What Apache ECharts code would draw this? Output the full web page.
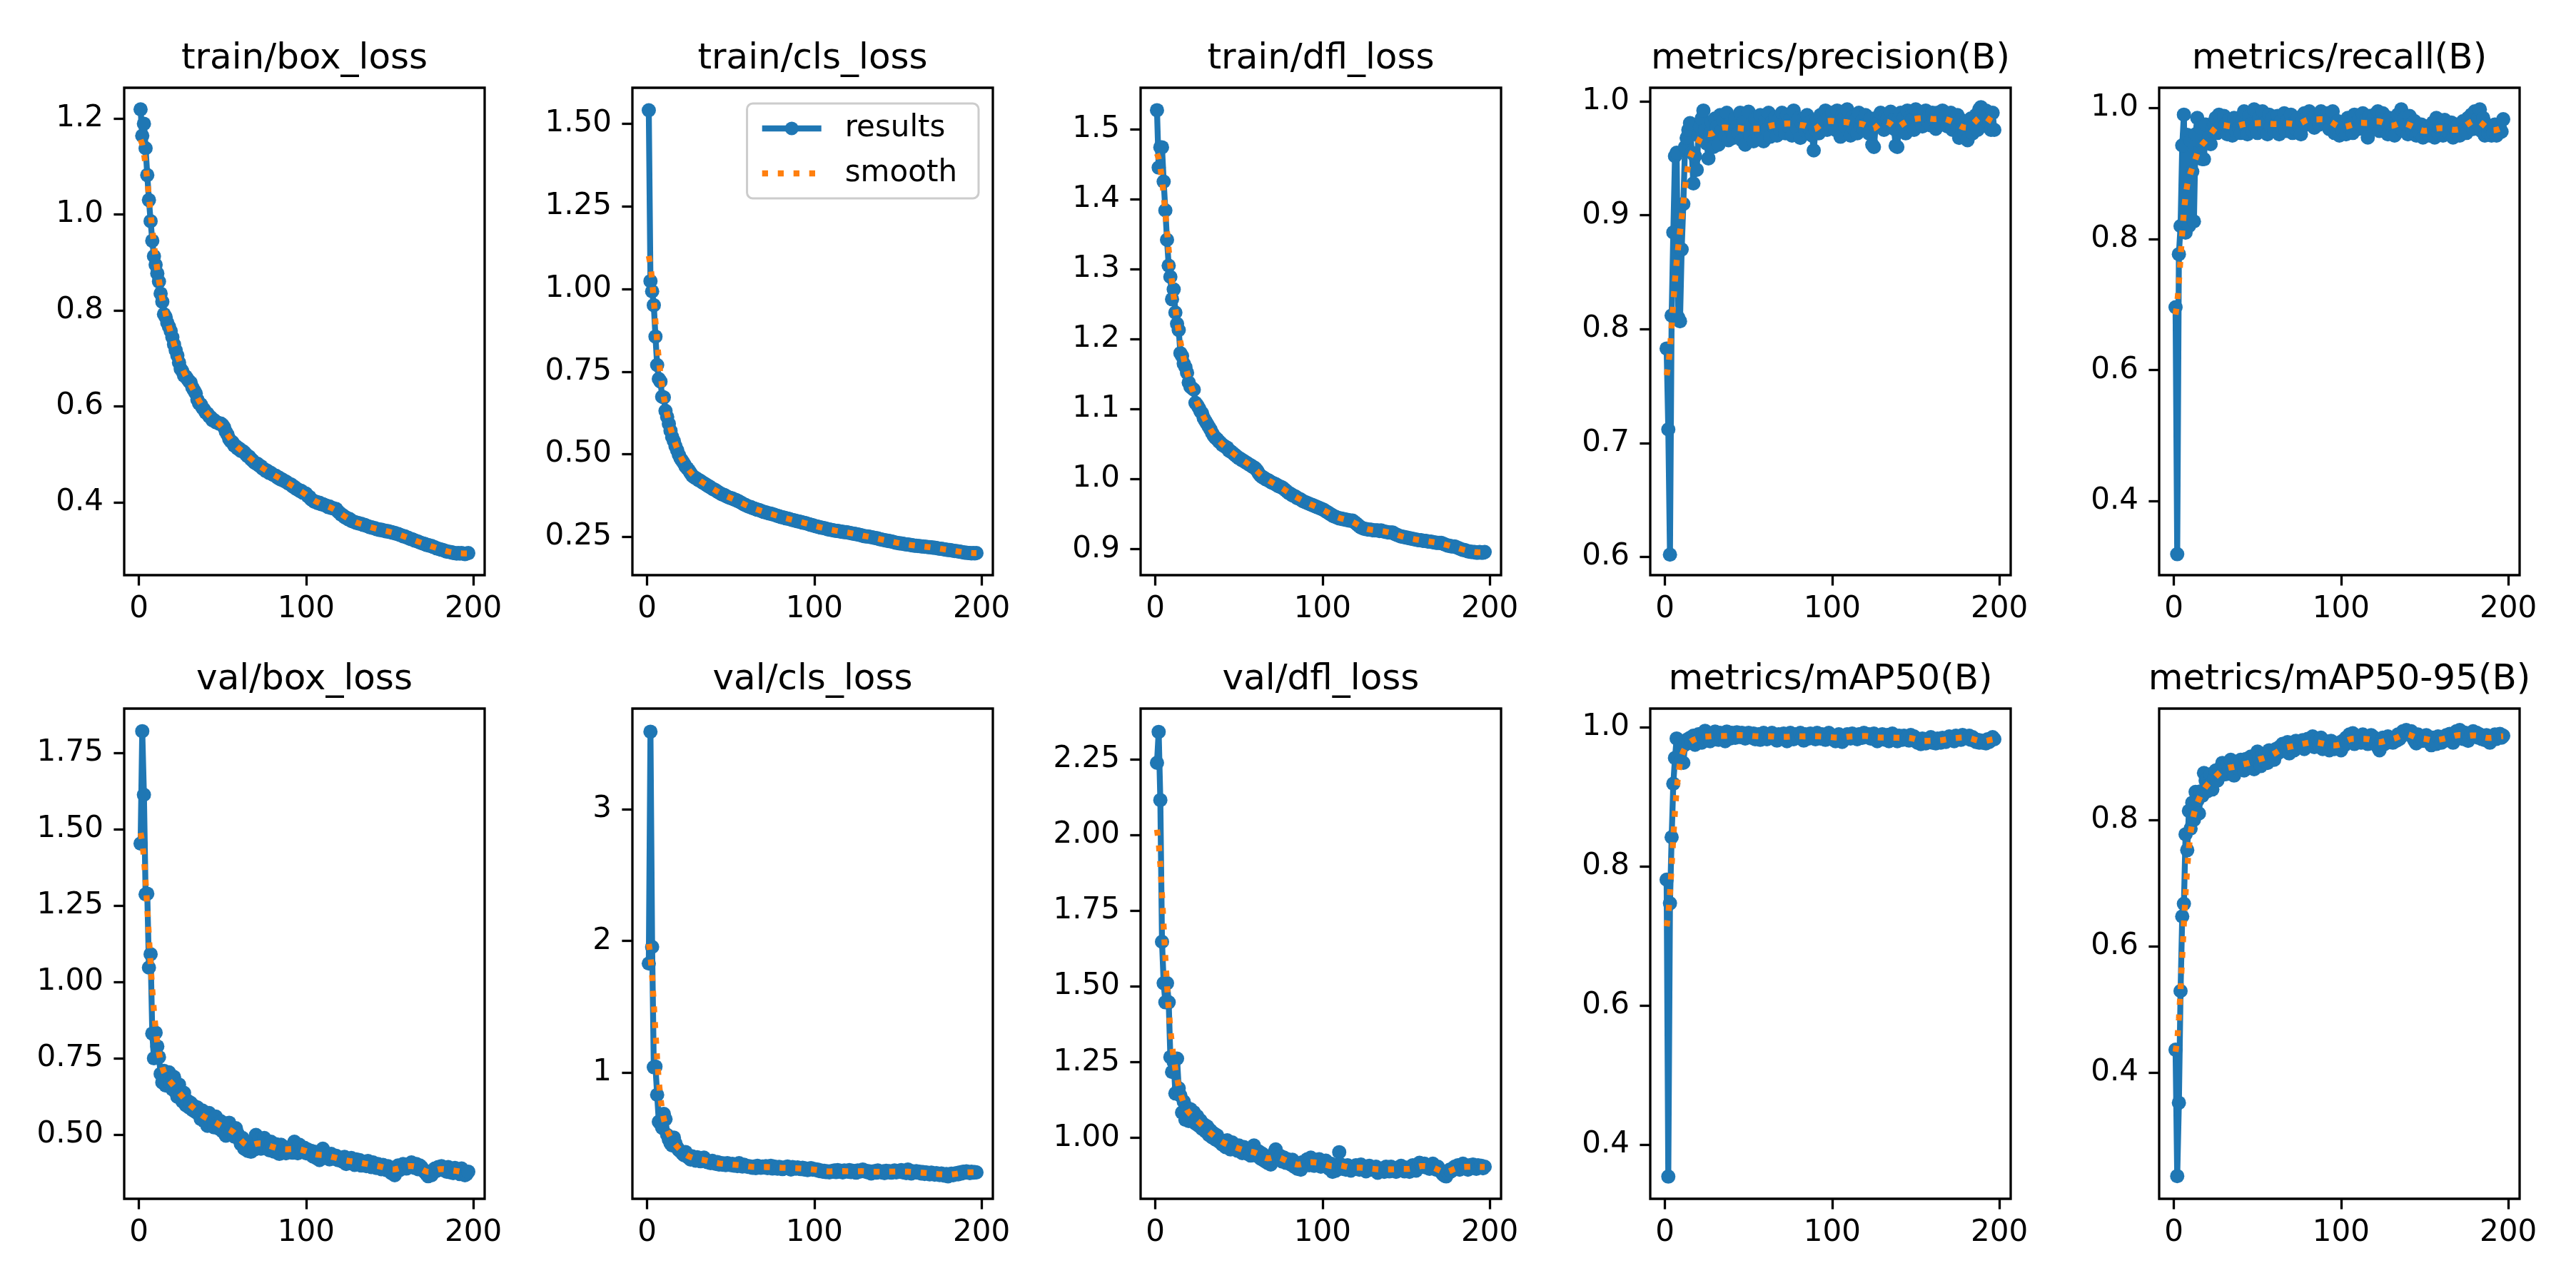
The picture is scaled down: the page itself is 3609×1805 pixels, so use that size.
<!DOCTYPE html>
<html>
<head>
<meta charset="utf-8">
<title>results</title>
<script src="https://cdn.jsdelivr.net/npm/echarts@6/dist/echarts.min.js"></script>
<style>
  html, body { margin: 0; padding: 0; background: #ffffff; }
  #chart { width: 3609px; height: 1805px; }
</style>
</head>
<body>
<div id="chart"></div>
<script>
// values, one per epoch (1..197)
const trainBox = [
  1.219,1.164,1.189,1.138,1.082,1.030,0.986,0.945,0.913,0.895,
  0.877,0.860,0.835,0.818,0.792,0.786,0.774,0.766,0.757,0.744,
  0.729,0.717,0.706,0.691,0.678,0.673,0.664,0.662,0.657,0.652,
  0.649,0.639,0.633,0.627,0.614,0.606,0.604,0.597,0.593,0.587,
  0.585,0.579,0.577,0.571,0.571,0.567,0.566,0.564,0.564,0.561,
  0.556,0.547,0.541,0.532,0.527,0.525,0.518,0.517,0.512,0.512,
  0.507,0.507,0.504,0.500,0.496,0.495,0.490,0.487,0.483,0.481,
  0.480,0.476,0.475,0.470,0.469,0.465,0.465,0.461,0.461,0.458,
  0.456,0.455,0.451,0.451,0.447,0.447,0.444,0.443,0.440,0.438,
  0.437,0.433,0.432,0.428,0.427,0.424,0.424,0.420,0.419,0.418,
  0.413,0.411,0.406,0.404,0.401,0.401,0.398,0.399,0.396,0.396,
  0.394,0.393,0.390,0.391,0.388,0.388,0.386,0.386,0.381,0.378,
  0.374,0.373,0.369,0.368,0.365,0.365,0.361,0.360,0.359,0.357,
  0.357,0.355,0.355,0.353,0.353,0.351,0.350,0.348,0.348,0.346,
  0.346,0.344,0.344,0.342,0.343,0.341,0.341,0.339,0.340,0.338,
  0.338,0.336,0.336,0.334,0.334,0.332,0.331,0.329,0.329,0.327,
  0.326,0.324,0.323,0.322,0.320,0.319,0.318,0.316,0.315,0.314,
  0.313,0.311,0.311,0.309,0.309,0.307,0.306,0.304,0.303,0.302,
  0.301,0.300,0.299,0.297,0.297,0.296,0.296,0.294,0.294,0.293,
  0.294,0.293,0.294,0.293,0.292,0.293,0.294
];
const trainCls = [
  1.541,1.024,0.993,0.951,0.856,0.770,0.728,0.720,0.674,0.672,
  0.631,0.613,0.592,0.571,0.552,0.540,0.524,0.512,0.498,0.487,
  0.480,0.472,0.463,0.457,0.451,0.443,0.435,0.431,0.428,0.425,
  0.421,0.419,0.415,0.412,0.409,0.405,0.403,0.399,0.396,0.393,
  0.391,0.387,0.384,0.381,0.378,0.377,0.374,0.371,0.369,0.367,
  0.366,0.363,0.362,0.359,0.357,0.354,0.351,0.348,0.346,0.343,
  0.341,0.340,0.337,0.336,0.334,0.332,0.331,0.329,0.327,0.325,
  0.324,0.322,0.321,0.320,0.318,0.317,0.315,0.313,0.312,0.310,
  0.309,0.308,0.306,0.305,0.304,0.302,0.301,0.300,0.298,0.297,
  0.296,0.295,0.293,0.292,0.291,0.289,0.288,0.286,0.285,0.283,
  0.282,0.281,0.279,0.278,0.277,0.276,0.275,0.273,0.272,0.271,
  0.270,0.269,0.268,0.268,0.267,0.266,0.265,0.264,0.264,0.263,
  0.262,0.261,0.260,0.259,0.258,0.257,0.256,0.255,0.253,0.252,
  0.251,0.251,0.250,0.249,0.248,0.247,0.246,0.245,0.243,0.242,
  0.241,0.240,0.239,0.238,0.237,0.236,0.235,0.233,0.232,0.231,
  0.230,0.230,0.229,0.228,0.227,0.227,0.226,0.225,0.224,0.223,
  0.223,0.222,0.222,0.221,0.221,0.220,0.220,0.219,0.219,0.218,
  0.217,0.217,0.216,0.215,0.214,0.214,0.213,0.212,0.211,0.210,
  0.210,0.209,0.208,0.207,0.207,0.206,0.205,0.204,0.203,0.202,
  0.202,0.201,0.201,0.200,0.201,0.200,0.201
];
const trainDfl = [
  1.527,1.445,1.474,1.474,1.425,1.384,1.342,1.305,1.289,1.257,
  1.271,1.238,1.222,1.213,1.180,1.176,1.165,1.160,1.152,1.138,
  1.132,1.130,1.128,1.109,1.106,1.102,1.097,1.094,1.087,1.083,
  1.079,1.075,1.071,1.066,1.062,1.059,1.057,1.054,1.052,1.049,
  1.048,1.046,1.045,1.041,1.040,1.038,1.036,1.034,1.032,1.030,
  1.029,1.027,1.026,1.024,1.023,1.021,1.020,1.018,1.017,1.015,
  1.012,1.008,1.005,1.003,1.002,1.000,0.999,0.998,0.996,0.995,
  0.994,0.993,0.991,0.990,0.989,0.988,0.986,0.984,0.982,0.980,
  0.979,0.977,0.976,0.975,0.973,0.972,0.971,0.969,0.968,0.967,
  0.966,0.965,0.964,0.963,0.962,0.961,0.960,0.959,0.958,0.957,
  0.956,0.954,0.953,0.951,0.950,0.948,0.947,0.946,0.945,0.944,
  0.944,0.943,0.943,0.942,0.942,0.941,0.941,0.941,0.939,0.937,
  0.935,0.933,0.931,0.930,0.929,0.929,0.928,0.928,0.928,0.927,
  0.927,0.927,0.927,0.926,0.927,0.926,0.925,0.925,0.924,0.924,
  0.924,0.924,0.922,0.921,0.920,0.919,0.918,0.918,0.917,0.917,
  0.916,0.916,0.915,0.915,0.914,0.914,0.913,0.913,0.913,0.912,
  0.912,0.912,0.911,0.911,0.911,0.910,0.910,0.909,0.909,0.909,
  0.909,0.908,0.907,0.906,0.905,0.905,0.904,0.904,0.904,0.903,
  0.902,0.901,0.900,0.899,0.899,0.898,0.897,0.897,0.896,0.896,
  0.896,0.895,0.895,0.896,0.895,0.895,0.896
];
const precision = [
  0.783,0.712,0.602,0.812,0.885,0.952,0.955,0.810,0.807,0.870,
  0.910,0.960,0.968,0.975,0.981,0.955,0.928,0.952,0.940,0.970,
  0.978,0.985,0.992,0.975,0.963,0.950,0.972,0.982,0.960,0.985,
  0.978,0.962,0.988,0.975,0.983,0.970,0.990,0.966,0.980,0.975,
  0.968,0.985,0.978,0.972,0.990,0.966,0.982,0.962,0.975,0.991,
  0.970,0.980,0.965,0.985,0.976,0.968,0.988,0.972,0.965,0.983,
  0.975,0.990,0.969,0.982,0.978,0.986,0.970,0.984,0.975,0.990,
  0.980,0.972,0.988,0.978,0.984,0.970,0.992,0.981,0.976,0.985,
  0.968,0.980,0.985,0.974,0.988,0.977,0.982,0.970,0.957,0.975,
  0.984,0.972,0.988,0.978,0.982,0.992,0.975,0.986,0.979,0.990,
  0.983,0.975,0.992,0.980,0.969,0.988,0.985,0.978,0.993,0.981,
  0.970,0.986,0.976,0.984,0.972,0.990,0.978,0.983,0.975,0.988,
  0.980,0.972,0.985,0.962,0.960,0.978,0.986,0.983,0.990,0.979,
  0.975,0.988,0.985,0.980,0.991,0.983,0.976,0.961,0.960,0.985,
  0.990,0.978,0.986,0.972,0.992,0.980,0.987,0.984,0.975,0.993,
  0.985,0.990,0.982,0.978,0.988,0.992,0.983,0.987,0.979,0.990,
  0.984,0.976,0.990,0.986,0.980,0.992,0.985,0.988,0.978,0.983,
  0.990,0.975,0.985,0.980,0.988,0.968,0.984,0.976,0.972,0.982,
  0.966,0.978,0.985,0.972,0.980,0.988,0.975,0.993,0.995,0.990,
  0.985,0.992,0.988,0.980,0.975,0.990,0.975
];
const recall = [
  0.696,0.319,0.777,0.820,0.943,0.990,0.810,0.959,0.820,0.950,
  0.903,0.827,0.960,0.985,0.930,0.970,0.922,0.922,0.975,0.950,
  0.955,0.945,0.968,0.975,0.985,0.962,0.990,0.972,0.965,0.988,
  0.975,0.960,0.982,0.970,0.958,0.985,0.965,0.978,0.970,0.962,
  0.980,0.995,0.972,0.960,0.988,0.975,0.965,0.998,0.970,0.962,
  0.985,0.975,0.995,0.968,0.978,0.960,0.990,0.972,0.985,0.965,
  0.975,0.988,0.960,0.980,0.970,0.992,0.965,0.982,0.975,0.990,
  0.962,0.978,0.968,0.985,0.972,0.960,0.980,0.992,0.975,0.988,
  0.995,0.978,0.985,0.970,0.990,0.982,0.975,0.995,0.980,0.988,
  0.975,0.992,0.968,0.985,0.995,0.962,0.970,0.980,0.958,0.972,
  0.965,0.978,0.960,0.985,0.970,0.975,0.962,0.990,0.978,0.968,
  0.985,0.975,0.992,0.970,0.982,0.955,0.988,0.978,0.972,0.990,
  0.975,0.995,0.965,0.982,0.992,0.970,0.978,0.960,0.985,0.975,
  0.962,0.958,0.978,0.990,0.970,0.998,0.965,0.985,0.975,0.960,
  0.988,0.975,0.965,0.980,0.958,0.970,0.962,0.975,0.955,0.968,
  0.960,0.972,0.958,0.965,0.978,0.955,0.985,0.962,0.970,0.975,
  0.958,0.982,0.965,0.972,0.960,0.978,0.955,0.970,0.962,0.975,
  0.958,0.965,0.980,0.970,0.962,0.985,0.975,0.990,0.968,0.995,
  0.978,0.985,0.998,0.965,0.985,0.958,0.975,0.962,0.970,0.958,
  0.962,0.975,0.958,0.965,0.970,0.964,0.983
];
const valBox = [
  1.454,1.822,1.614,1.288,1.290,1.048,1.092,0.832,0.751,0.835,
  0.790,0.755,0.700,0.672,0.710,0.662,0.690,0.705,0.668,0.650,
  0.690,0.640,0.625,0.665,0.630,0.610,0.638,0.598,0.612,0.590,
  0.605,0.582,0.595,0.575,0.590,0.568,0.552,0.580,0.545,0.560,
  0.530,0.572,0.548,0.555,0.525,0.560,0.538,0.520,0.545,0.512,
  0.535,0.498,0.525,0.540,0.510,0.518,0.495,0.522,0.505,0.485,
  0.470,0.490,0.455,0.470,0.448,0.462,0.445,0.478,0.452,0.500,
  0.475,0.485,0.455,0.468,0.490,0.462,0.472,0.450,0.478,0.460,
  0.445,0.470,0.455,0.438,0.468,0.450,0.460,0.440,0.455,0.448,
  0.462,0.442,0.478,0.455,0.440,0.468,0.450,0.445,0.458,0.440,
  0.452,0.438,0.448,0.430,0.445,0.425,0.440,0.418,0.432,0.455,
  0.440,0.425,0.435,0.420,0.438,0.428,0.422,0.432,0.418,0.425,
  0.420,0.412,0.428,0.405,0.418,0.410,0.425,0.412,0.402,0.420,
  0.408,0.418,0.400,0.412,0.405,0.398,0.415,0.402,0.395,0.410,
  0.400,0.392,0.405,0.398,0.388,0.402,0.395,0.385,0.398,0.390,
  0.375,0.388,0.368,0.392,0.400,0.385,0.395,0.405,0.398,0.390,
  0.402,0.395,0.410,0.398,0.392,0.405,0.388,0.400,0.395,0.385,
  0.378,0.372,0.365,0.380,0.368,0.385,0.390,0.382,0.395,0.388,
  0.398,0.385,0.392,0.380,0.395,0.378,0.388,0.375,0.392,0.380,
  0.385,0.372,0.390,0.378,0.368,0.372,0.380
];
const valCls = [
  1.829,3.592,1.955,1.040,1.045,0.830,0.625,0.610,0.580,0.685,
  0.645,0.525,0.490,0.462,0.445,0.505,0.460,0.430,0.410,0.400,
  0.385,0.372,0.395,0.360,0.350,0.338,0.362,0.345,0.330,0.355,
  0.340,0.325,0.348,0.352,0.330,0.318,0.322,0.310,0.328,0.315,
  0.305,0.318,0.300,0.312,0.298,0.308,0.295,0.310,0.302,0.296,
  0.305,0.292,0.300,0.288,0.310,0.295,0.285,0.298,0.290,0.282,
  0.288,0.278,0.275,0.285,0.272,0.290,0.280,0.275,0.285,0.278,
  0.288,0.272,0.282,0.290,0.270,0.285,0.278,0.268,0.282,0.275,
  0.265,0.278,0.272,0.285,0.270,0.262,0.280,0.272,0.268,0.278,
  0.270,0.265,0.275,0.262,0.270,0.258,0.268,0.272,0.260,0.265,
  0.258,0.262,0.250,0.255,0.245,0.252,0.242,0.248,0.240,0.250,
  0.245,0.255,0.242,0.258,0.248,0.252,0.240,0.255,0.250,0.245,
  0.258,0.242,0.252,0.248,0.238,0.255,0.245,0.250,0.262,0.248,
  0.252,0.240,0.248,0.232,0.245,0.250,0.238,0.255,0.245,0.240,
  0.248,0.235,0.252,0.242,0.250,0.238,0.245,0.255,0.240,0.250,
  0.245,0.258,0.240,0.250,0.235,0.262,0.245,0.232,0.248,0.240,
  0.250,0.238,0.245,0.232,0.242,0.228,0.240,0.235,0.225,0.238,
  0.230,0.222,0.235,0.228,0.220,0.232,0.225,0.215,0.228,0.210,
  0.222,0.230,0.218,0.228,0.235,0.225,0.240,0.232,0.245,0.238,
  0.248,0.240,0.235,0.245,0.238,0.242,0.240
];
const valDfl = [
  2.239,2.341,2.116,1.648,1.511,1.448,1.511,1.448,1.267,1.218,
  1.250,1.147,1.262,1.164,1.140,1.084,1.120,1.060,1.100,1.056,
  1.095,1.067,1.085,1.048,1.072,1.040,1.058,1.030,1.045,1.022,
  1.038,1.010,1.025,1.002,1.015,0.995,1.008,0.988,0.992,0.978,
  0.985,0.970,0.992,0.975,0.962,0.985,0.968,0.972,0.958,0.975,
  0.962,0.950,0.970,0.955,0.948,0.962,0.942,0.958,0.975,0.950,
  0.940,0.955,0.932,0.948,0.925,0.938,0.918,0.930,0.912,0.935,
  0.950,0.962,0.945,0.928,0.940,0.922,0.935,0.918,0.930,0.920,
  0.912,0.928,0.905,0.918,0.898,0.912,0.895,0.920,0.915,0.925,
  0.930,0.910,0.935,0.918,0.908,0.925,0.915,0.930,0.905,0.918,
  0.912,0.925,0.908,0.898,0.915,0.888,0.902,0.892,0.910,0.953,
  0.912,0.898,0.905,0.895,0.910,0.900,0.892,0.905,0.898,0.910,
  0.902,0.895,0.912,0.898,0.905,0.890,0.902,0.908,0.895,0.900,
  0.895,0.905,0.885,0.898,0.892,0.900,0.888,0.905,0.895,0.890,
  0.905,0.892,0.898,0.888,0.902,0.895,0.908,0.898,0.890,0.902,
  0.895,0.888,0.900,0.910,0.898,0.892,0.905,0.918,0.912,0.905,
  0.915,0.902,0.910,0.898,0.905,0.915,0.900,0.895,0.905,0.892,
  0.888,0.880,0.875,0.873,0.885,0.895,0.890,0.900,0.905,0.898,
  0.910,0.895,0.905,0.915,0.900,0.908,0.895,0.910,0.902,0.912,
  0.905,0.898,0.910,0.902,0.908,0.900,0.905
];
const map50 = [
  0.781,0.354,0.747,0.842,0.919,0.956,0.984,0.956,0.950,0.979,
  0.949,0.975,0.982,0.978,0.985,0.980,0.988,0.975,0.984,0.990,
  0.985,0.978,0.992,0.995,0.982,0.988,0.980,0.990,0.986,0.994,
  0.988,0.982,0.992,0.985,0.990,0.980,0.994,0.988,0.984,0.992,
  0.990,0.985,0.993,0.988,0.986,0.992,0.990,0.984,0.989,0.992,
  0.988,0.985,0.991,0.983,0.988,0.990,0.982,0.987,0.992,0.985,
  0.983,0.990,0.986,0.992,0.984,0.988,0.981,0.990,0.986,0.984,
  0.991,0.985,0.980,0.988,0.992,0.986,0.983,0.990,0.988,0.985,
  0.992,0.986,0.981,0.990,0.988,0.984,0.991,0.986,0.989,0.983,
  0.992,0.987,0.984,0.990,0.986,0.982,0.988,0.992,0.985,0.983,
  0.988,0.980,0.986,0.990,0.984,0.979,0.988,0.985,0.990,0.987,
  0.984,0.991,0.986,0.988,0.983,0.990,0.987,0.985,0.992,0.988,
  0.986,0.990,0.984,0.988,0.991,0.982,0.980,0.987,0.984,0.990,
  0.986,0.982,0.989,0.980,0.985,0.991,0.984,0.986,0.980,0.988,
  0.985,0.982,0.988,0.984,0.986,0.981,0.989,0.985,0.987,0.983,
  0.978,0.982,0.976,0.984,0.979,0.977,0.983,0.980,0.986,0.978,
  0.982,0.977,0.984,0.980,0.978,0.985,0.982,0.979,0.984,0.987,
  0.983,0.986,0.980,0.988,0.984,0.986,0.982,0.989,0.985,0.987,
  0.984,0.988,0.982,0.986,0.983,0.979,0.982,0.978,0.981,0.978,
  0.980,0.977,0.983,0.979,0.984,0.986,0.983
];
const map5095 = [
  0.436,0.236,0.352,0.529,0.647,0.667,0.777,0.752,0.814,0.786,
  0.827,0.800,0.844,0.830,0.810,0.845,0.838,0.874,0.862,0.845,
  0.855,0.872,0.848,0.865,0.878,0.862,0.880,0.870,0.890,0.885,
  0.872,0.888,0.878,0.895,0.882,0.870,0.885,0.892,0.880,0.895,
  0.888,0.878,0.896,0.890,0.882,0.900,0.892,0.880,0.895,0.908,
  0.898,0.885,0.902,0.893,0.905,0.890,0.910,0.898,0.904,0.895,
  0.912,0.905,0.915,0.908,0.920,0.910,0.918,0.923,0.905,0.915,
  0.920,0.910,0.925,0.915,0.922,0.918,0.926,0.912,0.920,0.928,
  0.918,0.925,0.932,0.915,0.922,0.928,0.918,0.930,0.912,0.925,
  0.915,0.922,0.910,0.925,0.918,0.912,0.920,0.915,0.922,0.910,
  0.925,0.918,0.930,0.922,0.935,0.928,0.937,0.920,0.932,0.925,
  0.930,0.922,0.935,0.928,0.932,0.920,0.928,0.934,0.925,0.930,
  0.922,0.915,0.910,0.925,0.930,0.920,0.928,0.932,0.925,0.929,
  0.922,0.930,0.925,0.935,0.928,0.932,0.940,0.936,0.942,0.938,
  0.935,0.940,0.930,0.925,0.921,0.935,0.928,0.932,0.925,0.930,
  0.934,0.928,0.922,0.918,0.930,0.926,0.920,0.932,0.928,0.922,
  0.930,0.925,0.934,0.928,0.936,0.930,0.922,0.935,0.940,0.932,
  0.942,0.935,0.928,0.938,0.932,0.925,0.930,0.936,0.940,0.933,
  0.938,0.930,0.935,0.928,0.932,0.926,0.934,0.930,0.922,0.928,
  0.930,0.935,0.928,0.932,0.936,0.930,0.933
];

const titles = ['train/box_loss', 'train/cls_loss', 'train/dfl_loss', 'metrics/precision(B)', 'metrics/recall(B)',
                'val/box_loss', 'val/cls_loss', 'val/dfl_loss', 'metrics/mAP50(B)', 'metrics/mAP50-95(B)'];
const xTickLabels = ['0', '100', '200'];
const yTickLabels = [
  ['0.4', '0.6', '0.8', '1.0', '1.2'],
  ['0.25', '0.50', '0.75', '1.00', '1.25', '1.50'],
  ['0.9', '1.0', '1.1', '1.2', '1.3', '1.4', '1.5'],
  ['0.6', '0.7', '0.8', '0.9', '1.0'],
  ['0.4', '0.6', '0.8', '1.0'],
  ['0.50', '0.75', '1.00', '1.25', '1.50', '1.75'],
  ['1', '2', '3'],
  ['1.00', '1.25', '1.50', '1.75', '2.00', '2.25'],
  ['0.4', '0.6', '0.8', '1.0'],
  ['0.4', '0.6', '0.8']
];
// axis limits as shown in the picture
const yLimits = [
  [0.248, 1.264], [0.134, 1.609], [0.863, 1.559], [0.584, 1.012], [0.287, 1.031],
  [0.291, 1.896], [0.039, 3.768], [0.799, 2.418], [0.322, 1.027], [0.200, 0.976]
];
const xLimits = [-8.8, 206.8];

const panels = [trainBox, trainCls, trainDfl, precision, recall, valBox, valCls, valDfl, map50, map5095];

// same smoothing as the original plot: gaussian, sigma 3, reflected edges
function gaussSmooth(y, sigma) {
    const r = Math.round(4 * sigma);
    let w = [];
    let s = 0;
    for (let k = -r; k <= r; k++) {
        const v = Math.exp(-0.5 * k * k / (sigma * sigma));
        w.push(v);
        s += v;
    }
    w = w.map(v => v / s);
    const n = y.length;
    const idx = j => {
        while (j < 0 || j >= n) {
            if (j < 0) j = -j - 1;
            if (j >= n) j = 2 * n - j - 1;
        }
        return j;
    };
    return y.map((_, i) => {
        let acc = 0;
        for (let k = -r; k <= r; k++) acc += w[k + r] * y[idx(i + k)];
        return acc;
    });
}

function labelFormatter(labels) {
    const vals = labels.map(Number);
    return function (v) {
        let best = 0;
        vals.forEach((t, i) => { if (Math.abs(t - v) < Math.abs(vals[best] - v)) best = i; });
        return labels[best];
    };
}

const colLeft = [174, 886, 1598, 2312, 3025];
const plotW = 505;
const rowTop = [123, 993];
const rowH = [683, 687];
const font = 'DejaVu Sans';
const lw = 8.3;
const dots = [8.3, 13.7];

let chartDom = document.getElementById('chart');
let myChart = echarts.init(chartDom);
let option;

let grid = [], xAxis = [], yAxis = [], series = [], graphic = [];

panels.forEach((vals, i) => {
    const row = Math.floor(i / 5);
    const col = i % 5;
    grid.push({
        left: colLeft[col], top: rowTop[row], width: plotW, height: rowH[row],
        show: true, borderColor: '#000', borderWidth: 3.3, backgroundColor: 'transparent',
        containLabel: false, outerBoundsMode: 'none'
    });
    const xVals = xTickLabels.map(Number);
    xAxis.push({
        type: 'value', gridIndex: i, min: xLimits[0], max: xLimits[1], position: 'bottom',
        splitLine: { show: false },
        axisLine: { show: false, onZero: false },
        axisTick: { show: true, inside: false, length: 14.6, lineStyle: { color: '#000', width: 3.3 }, customValues: xVals },
        axisLabel: { show: true, customValues: xVals, margin: 27, fontSize: 42, fontFamily: font, color: '#000',
                     formatter: labelFormatter(xTickLabels) }
    });
    const yVals = yTickLabels[i].map(Number);
    yAxis.push({
        type: 'value', gridIndex: i, min: yLimits[i][0], max: yLimits[i][1], position: 'left',
        splitLine: { show: false },
        axisLine: { show: false, onZero: false },
        axisTick: { show: true, inside: false, length: 14.6, lineStyle: { color: '#000', width: 3.3 }, customValues: yVals },
        axisLabel: { show: true, customValues: yVals, margin: 29, fontSize: 42, fontFamily: font, color: '#000',
                     formatter: labelFormatter(yTickLabels[i]) }
    });
    const smooth = gaussSmooth(vals, 3);
    series.push({
        type: 'line', name: 'results', xAxisIndex: i, yAxisIndex: i,
        data: vals.map((v, k) => [k + 1, v]),
        symbol: 'circle', symbolSize: 20, showSymbol: true, showAllSymbol: true,
        lineStyle: { color: '#1f77b4', width: lw },
        itemStyle: { color: '#1f77b4' },
        emphasis: { disabled: true },
        z: 2
    });
    series.push({
        type: 'line', name: 'smooth', xAxisIndex: i, yAxisIndex: i,
        data: smooth.map((v, k) => [k + 1, v]),
        symbol: 'circle', showSymbol: false,
        lineStyle: { color: '#ff7f0e', width: lw, type: dots, cap: 'butt' },
        itemStyle: { color: '#ff7f0e', opacity: 0 },
        emphasis: { disabled: true },
        z: 3
    });
    graphic.push({
        type: 'text',
        x: colLeft[col] + plotW / 2,
        y: rowTop[row] - 40,
        style: { text: titles[i], fontSize: 50, fontFamily: font, fill: '#000', align: 'center', verticalAlign: 'middle' }
    });
});

option = {
    backgroundColor: '#ffffff',
    animation: false,
    grid: grid,
    xAxis: xAxis,
    yAxis: yAxis,
    series: series,
    graphic: graphic,
    legend: {
        data: [
            { name: 'results', itemStyle: { color: '#1f77b4', opacity: 1 },
              lineStyle: { color: '#1f77b4', width: lw, opacity: 1, type: 'solid' } },
            { name: 'smooth', itemStyle: { opacity: 0 },
              lineStyle: { color: '#ff7f0e', width: lw, opacity: 1, type: dots, cap: 'butt' } }
        ],
        orient: 'vertical',
        right: 3609 - 1371,
        top: 145,
        padding: [14, 30, 14, 17],
        itemGap: 21,
        itemWidth: 83,
        itemHeight: 24,
        selectedMode: false,
        backgroundColor: 'rgba(255,255,255,0.8)',
        borderColor: '#cccccc',
        borderWidth: 3,
        borderRadius: 8,
        textStyle: { fontSize: 42, fontFamily: font, color: '#000', padding: [0, 0, 0, 28] }
    }
};

option && myChart.setOption(option);
</script>
</body>
</html>
